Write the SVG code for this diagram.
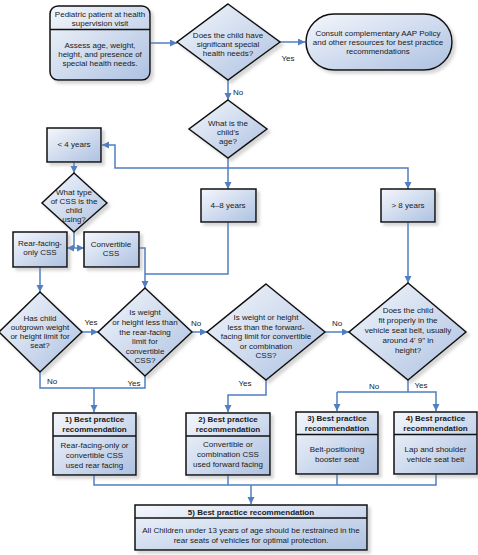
<svg xmlns="http://www.w3.org/2000/svg" width="478" height="555" viewBox="0 0 478 555">
<style>
text{font-family:"Liberation Sans",Arial,sans-serif;font-size:8px;fill:#1a1a1a;text-anchor:middle}
.b{font-weight:bold}
.shape{fill:url(#g);stroke:#111;stroke-width:1.5;filter:url(#sh)}
.div{stroke:#111;stroke-width:1.3}
.c{fill:none;stroke:#4f7fc0;stroke-width:1.5}
.a{marker-end:url(#ah)}
.lbl{font-size:8px}
</style>
<defs>
<linearGradient id="g" x1="0" y1="0" x2="1" y2="1">
<stop offset="0" stop-color="#f4f7fc"/>
<stop offset="1" stop-color="#adc1e1"/>
</linearGradient>
<filter id="sh" x="-10%" y="-10%" width="130%" height="130%">
<feDropShadow dx="3" dy="3" stdDeviation="1.5" flood-color="#888" flood-opacity="0.35"/>
</filter>
<marker id="ah" markerUnits="userSpaceOnUse" markerWidth="8" markerHeight="8" refX="7" refY="3.5" orient="auto">
<path d="M0,0 L7,3.5 L0,7 z" fill="#4f7fc0"/>
</marker>
<marker id="ahs" markerUnits="userSpaceOnUse" markerWidth="8" markerHeight="8" refX="0" refY="3.5" orient="auto">
<path d="M7,0 L0,3.5 L7,7 z" fill="#4f7fc0"/>
</marker>
</defs>

<g id="connectors">
<path class="c a" d="M150,43 H177"/>
<path class="c a" d="M280,42 H305"/>
<path class="c a" d="M228,80 V100"/>
<path class="c a" d="M228,158 V189"/>
<path class="c a" d="M228,168 H115 V145 H102"/>
<path class="c a" d="M228,168 H408 V189"/>
<path class="c a" d="M74,162 V173"/>
<path class="c" d="M74,232 V248"/>
<path class="c a" d="M74,248 H67"/>
<path class="c a" d="M74,248 H84"/>
<path class="c a" d="M139,248 H145 V288"/>
<path class="c" d="M228,222 V274 H145"/>
<path class="c a" d="M40,267 V292"/>
<path class="c a" d="M82,332 H98"/>
<path class="c a" d="M192,332 H207"/>
<path class="c a" d="M325,332 H349"/>
<path class="c a" d="M408,222 V283"/>
<path class="c" d="M40,372 V388 H145 V376"/>
<path class="c a" d="M94,388 V412"/>
<path class="c a" d="M266,380 V395 H228 V412"/>
<path class="c" d="M408,380 V392"/>
<path class="c a" d="M337,392 H436 V411"/>
<path class="c a" d="M337,392 V411"/>
<path class="c" d="M94,475 V485 H436 V474"/>
<path class="c" d="M228,475 V485"/>
<path class="c" d="M337,474 V485"/>
<path class="c a" d="M251,485 V504"/>
<text x="288" y="61">Yes</text>
<text x="238" y="95">No</text>
<text x="91" y="325">Yes</text>
<text x="196" y="326">No</text>
<text x="337" y="326">No</text>
<text x="52" y="384">No</text>
<text x="134" y="386">Yes</text>
<text x="245" y="386">Yes</text>
<text x="374" y="389">No</text>
<text x="421" y="388">Yes</text>
</g>

<g id="start">
<rect class="shape" x="50" y="6" width="100" height="74" rx="8"/>
<line class="div" x1="50" y1="29.5" x2="150" y2="29.5"/>
<text x="100" y="17">Pediatric patient at health</text>
<text x="100" y="26">supervision visit</text>
<text x="100" y="48">Assess age, weight,</text>
<text x="100" y="57">height, and presence of</text>
<text x="100" y="66">special health needs.</text>
</g>

<g id="q-special">
<polygon class="shape" points="228,4 280,42 228,80 177,42"/>
<text x="228" y="38">Does the child have</text>
<text x="228" y="47">significant special</text>
<text x="228" y="56">health needs?</text>
</g>

<g id="consult">
<rect class="shape" x="306" y="14" width="146" height="56" rx="28"/>
<text x="378" y="36">Consult complementary AAP Policy</text>
<text x="378" y="45">and other resources for best practice</text>
<text x="378" y="54">recommendations</text>
</g>

<g id="q-age">
<polygon class="shape" points="228,100 267,129 228,158 189,129"/>
<text x="228" y="126">What is the</text>
<text x="228" y="135">child's</text>
<text x="228" y="144">age?</text>
</g>

<g id="lt4">
<rect class="shape" x="47" y="128" width="54" height="34"/>
<text x="74" y="147">&lt; 4 years</text>
</g>

<g id="y4to8">
<rect class="shape" x="201" y="189" width="55" height="33"/>
<text x="228" y="208">4–8 years</text>
</g>

<g id="gt8">
<rect class="shape" x="381" y="189" width="54" height="33"/>
<text x="408" y="208">&gt; 8 years</text>
</g>

<g id="q-css">
<polygon class="shape" points="74,173 107,203 74,232 42,203"/>
<text x="74" y="195">What type</text>
<text x="74" y="204">of CSS is the</text>
<text x="74" y="213">child</text>
<text x="74" y="222">using?</text>
</g>

<g id="rear-only">
<rect class="shape" x="13" y="232" width="54" height="35"/>
<text x="40" y="246">Rear-facing-</text>
<text x="40" y="255">only CSS</text>
</g>

<g id="convertible">
<rect class="shape" x="84" y="232" width="55" height="35"/>
<text x="111" y="247">Convertible</text>
<text x="111" y="256">CSS</text>
</g>

<g id="q-outgrown">
<polygon class="shape" points="40,292 82,332 40,372 -1,332"/>
<text x="40" y="321">Has child</text>
<text x="40" y="330">outgrown weight</text>
<text x="40" y="339">or height limit for</text>
<text x="40" y="348">seat?</text>
</g>

<g id="q-rear-limit">
<polygon class="shape" points="145,288 192,332 145,376 98,332"/>
<text x="145" y="315">Is weight</text>
<text x="145" y="325">or height less than</text>
<text x="145" y="335">the rear-facing</text>
<text x="145" y="344">limit for</text>
<text x="145" y="354">convertible</text>
<text x="145" y="363">CSS?</text>
</g>

<g id="q-forward-limit">
<polygon class="shape" points="266,284 325,332 266,380 207,332"/>
<text x="266" y="320">Is weight or height</text>
<text x="266" y="330">less than the forward-</text>
<text x="266" y="339">facing limit for convertible</text>
<text x="266" y="349">or combination</text>
<text x="266" y="358">CSS?</text>
</g>

<g id="q-seatbelt">
<polygon class="shape" points="408,283 466,332 408,380 349,332"/>
<text x="408" y="313">Does the child</text>
<text x="408" y="323">fit properly in the</text>
<text x="408" y="333">vehicle seat belt, usually</text>
<text x="408" y="343">around 4' 9" in</text>
<text x="408" y="353">height?</text>
</g>

<g id="rec1">
<rect class="shape" x="53" y="413" width="83" height="62"/>
<line class="div" x1="53" y1="436" x2="136" y2="436"/>
<text class="b" x="94.5" y="422">1) Best practice</text>
<text class="b" x="94.5" y="432">recommendation</text>
<text x="94.5" y="448">Rear-facing-only or</text>
<text x="94.5" y="458">convertible CSS</text>
<text x="94.5" y="468">used rear facing</text>
</g>

<g id="rec2">
<rect class="shape" x="186" y="413" width="84" height="62"/>
<line class="div" x1="186" y1="436" x2="270" y2="436"/>
<text class="b" x="228" y="422">2) Best practice</text>
<text class="b" x="228" y="432">recommendation</text>
<text x="228" y="447">Convertible or</text>
<text x="228" y="457">combination CSS</text>
<text x="228" y="467">used forward facing</text>
</g>

<g id="rec3">
<rect class="shape" x="296" y="412" width="82" height="62"/>
<line class="div" x1="296" y1="434.5" x2="378" y2="434.5"/>
<text class="b" x="337" y="421">3) Best practice</text>
<text class="b" x="337" y="431">recommendation</text>
<text x="337" y="452">Belt-positioning</text>
<text x="337" y="462">booster seat</text>
</g>

<g id="rec4">
<rect class="shape" x="394" y="412" width="83" height="62"/>
<line class="div" x1="394" y1="434.5" x2="477" y2="434.5"/>
<text class="b" x="435.5" y="421">4) Best practice</text>
<text class="b" x="435.5" y="431">recommendation</text>
<text x="435.5" y="452">Lap and shoulder</text>
<text x="435.5" y="462">vehicle seat belt</text>
</g>

<g id="rec5">
<rect class="shape" x="135" y="505" width="232" height="45"/>
<line class="div" x1="135" y1="518" x2="367" y2="518"/>
<text class="b" x="251" y="515">5) Best practice recommendation</text>
<text x="251" y="533">All Children under 13 years of age should be restrained in the</text>
<text x="251" y="543">rear seats of vehicles for optimal protection.</text>
</g>
</svg>
